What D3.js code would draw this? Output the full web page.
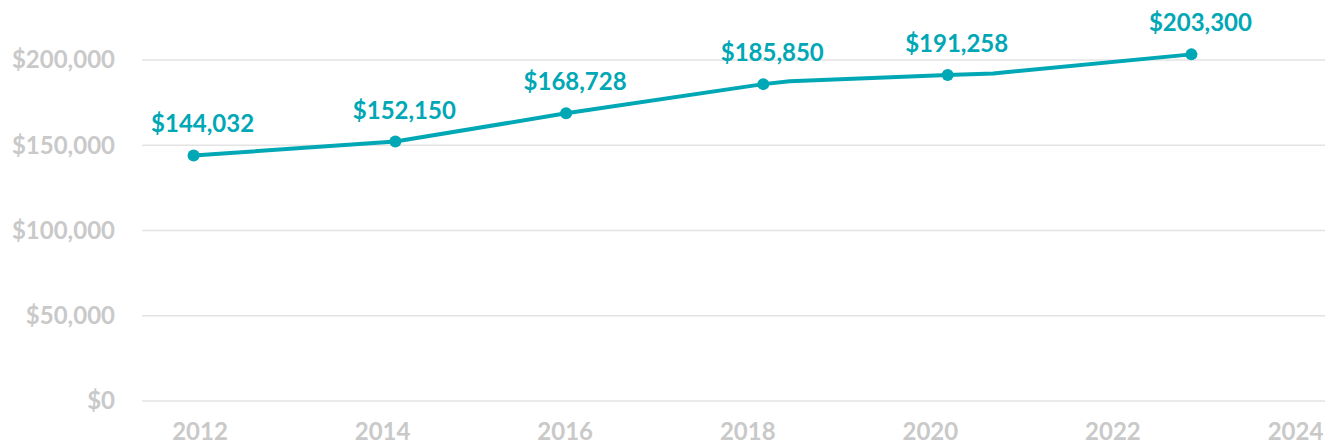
<!DOCTYPE html>
<html lang="en">
    <head>
        <meta charset="utf-8">
        <title>Median price line</title>
        <script src="https://d3js.org/d3.v7.min.js"></script>
        <style type="text/css">
          body { margin: 0; background: #fff; }
          svg { width: 1331px; height: 445px; display: block; }
          .axis-label {
            font-family: Lato, sans-serif;
            font-size: 24px;
            font-weight: bold;
            fill: #c9c9c9;
          }
          .value-label {
            font-family: Lato, sans-serif;
            font-size: 24px;
            font-weight: bold;
            fill: #00a7b5;
          }
        </style>
    </head>
    <body>
        <svg></svg>

        <script type="text/javascript">

        // labelled points (fractional year, value)
        const pointYears  = [2011.93, 2014.14, 2016.01, 2018.17, 2020.19, 2022.86];
        const pointValues = [144032, 152150, 168728, 185850, 191258, 203300];
        // unmarked bends in the line
        const bendYears  = [2018.46, 2020.69];
        const bendValues = [187500, 192100];

        const yTicks = [0, 50000, 100000, 150000, 200000];
        const xTicks = [2012, 2014, 2016, 2018, 2020, 2022, 2024];

        const teal = "#00a7b5";

        const xScale = d3.scaleLinear().domain([2012, 2024]).range([200, 1295.5]);
        const yScale = d3.scaleLinear().domain([0, 200000]).range([401, 60]);

        const svg = d3.select("svg");

        const money = d => "$" + d3.format(",")(d);

        // gridlines + y labels
        svg.append("g").selectAll("line")
           .data(yTicks)
           .join("line")
           .attr("x1", 142).attr("x2", 1325)
           .attr("y1", d => yScale(d)).attr("y2", d => yScale(d))
           .attr("stroke", "#e3e3e3")
           .attr("stroke-width", 1.5);

        svg.append("g").selectAll("text")
           .data(yTicks)
           .join("text")
           .attr("class", "axis-label")
           .attr("x", 115)
           .attr("y", d => yScale(d))
           .attr("dy", "0.35em")
           .attr("text-anchor", "end")
           .text(money);

        // x labels
        svg.append("g").selectAll("text")
           .data(xTicks)
           .join("text")
           .attr("class", "axis-label")
           .attr("x", d => xScale(d))
           .attr("y", 440)
           .attr("text-anchor", "middle")
           .text(d => d);

        // line through points and bends, sorted by time
        const linePts = pointYears.map((y, i) => [y, pointValues[i]])
              .concat(bendYears.map((y, i) => [y, bendValues[i]]))
              .sort((a, b) => a[0] - b[0]);

        const line = d3.line()
              .x(d => xScale(d[0]))
              .y(d => yScale(d[1]));

        svg.append("path")
           .datum(linePts)
           .attr("d", line)
           .attr("fill", "none")
           .attr("stroke", teal)
           .attr("stroke-width", 4)
           .attr("stroke-linejoin", "round");

        const pts = pointYears.map((y, i) => ({year: y, value: pointValues[i]}));

        svg.append("g").selectAll("circle")
           .data(pts)
           .join("circle")
           .attr("cx", d => xScale(d.year))
           .attr("cy", d => yScale(d.value))
           .attr("r", 6)
           .attr("fill", teal);

        svg.append("g").selectAll("text")
           .data(pts)
           .join("text")
           .attr("class", "value-label")
           .attr("x", d => xScale(d.year) + 9)
           .attr("y", d => yScale(d.value) - 23)
           .attr("text-anchor", "middle")
           .text(d => money(d.value));

        </script>
    </body>
</html>
